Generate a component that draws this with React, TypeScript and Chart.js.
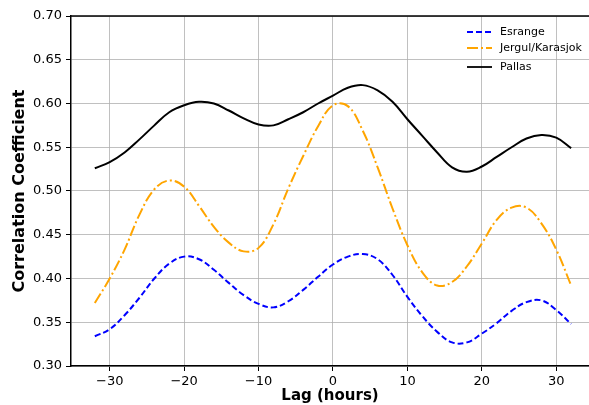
import React, { useEffect, useRef } from "react";
import { Chart, registerables } from "chart.js";

Chart.register(...registerables);

const lags = [-32, -30, -28, -26, -24, -22, -20, -18, -16, -14, -12, -10, -8, -6, -4, -2, 0, 2, 4, 6, 8, 10, 12, 14, 16, 18, 20, 22, 24, 26, 28, 30, 32];

const esrange = [0.334, 0.342, 0.358, 0.378, 0.400, 0.417, 0.425, 0.422, 0.410, 0.395, 0.381, 0.371, 0.367, 0.374, 0.387, 0.402, 0.416, 0.425, 0.428, 0.422, 0.404, 0.379, 0.357, 0.339, 0.327, 0.327, 0.337, 0.349, 0.363, 0.373, 0.375, 0.364, 0.348];

const jergul = [0.372, 0.400, 0.433, 0.473, 0.502, 0.512, 0.505, 0.483, 0.459, 0.441, 0.431, 0.435, 0.462, 0.503, 0.540, 0.574, 0.598, 0.597, 0.569, 0.527, 0.480, 0.438, 0.407, 0.392, 0.396, 0.414, 0.440, 0.467, 0.481, 0.481, 0.463, 0.433, 0.392];

const pallas = [0.526, 0.533, 0.544, 0.559, 0.575, 0.590, 0.598, 0.602, 0.600, 0.592, 0.583, 0.576, 0.575, 0.582, 0.590, 0.600, 0.609, 0.618, 0.621, 0.615, 0.602, 0.582, 0.563, 0.544, 0.527, 0.522, 0.528, 0.539, 0.550, 0.560, 0.564, 0.561, 0.549];

const seriesLabels = ["Esrange", "Jergul/Karasjok", "Pallas"];
const xTicks = [-30, -20, -10, 0, 10, 20, 30];
const yTicks = [0.3, 0.35, 0.4, 0.45, 0.5, 0.55, 0.6, 0.65, 0.7];

const FONT = "'DejaVu Sans', sans-serif";

const frameAndLegend = {
  id: "frameAndLegend",
  afterDraw(chart: any) {
    const { ctx, chartArea } = chart;
    ctx.save();
    ctx.strokeStyle = "#000";
    ctx.lineWidth = 1.5;
    ctx.beginPath();
    ctx.moveTo(chartArea.left - 0.75, chartArea.top);
    ctx.lineTo(chartArea.right, chartArea.top);
    ctx.stroke();
    const rows = [32, 48, 67];
    chart.data.datasets.forEach((ds: any, i: number) => {
      const y = rows[i];
      ctx.strokeStyle = ds.borderColor;
      ctx.lineWidth = 1.8;
      ctx.setLineDash(ds.borderDash || []);
      ctx.beginPath();
      ctx.moveTo(467, y);
      ctx.lineTo(492, y);
      ctx.stroke();
      ctx.setLineDash([]);
      ctx.fillStyle = "#000";
      ctx.font = "11px " + FONT;
      ctx.textBaseline = "middle";
      ctx.textAlign = "left";
      ctx.fillText(ds.label, 500, y);
    });
    ctx.restore();
  },
};

export default function App() {
  const ref = useRef<HTMLCanvasElement | null>(null);
  useEffect(() => {
    if (!ref.current) return;
    const mk = (vals: number[]) => lags.map((x, i) => ({ x, y: vals[i] }));
    const common = { borderWidth: 2, pointRadius: 0, tension: 0.4, fill: false };
    const chart = new Chart(ref.current, {
      type: "line",
      data: {
        datasets: [
          { label: seriesLabels[0], data: mk(esrange), borderColor: "#0000ff", borderDash: [6, 3], ...common },
          { label: seriesLabels[1], data: mk(jergul), borderColor: "#ffa500", borderDash: [11, 3, 2, 3], ...common },
          { label: seriesLabels[2], data: mk(pallas), borderColor: "#000000", ...common },
        ],
      },
      options: {
        responsive: false,
        animation: false,
        devicePixelRatio: 1,
        layout: { padding: { top: 16, right: 0, left: 0, bottom: 0 } },
        plugins: { legend: { display: false }, tooltip: { enabled: false } },
        scales: {
          x: {
            type: "linear",
            min: -35.2,
            max: 34.4,
            afterFit: (s: any) => { s.height = 39; },
            afterBuildTicks: (s: any) => { s.ticks = xTicks.map((v) => ({ value: v })); },
            ticks: {
              includeBounds: false,
              color: "#000",
              font: { family: FONT, size: 13 },
              padding: 3,
              maxRotation: 0,
              callback: (v: any) => (v < 0 ? "\u2212" + Math.abs(v) : String(v)),
            },
            grid: { color: "#b0b0b0", lineWidth: 0.8, tickColor: "#000", tickLength: 5, tickWidth: 1 },
            border: { color: "#000", width: 1.5 },
            title: { display: true, text: "Lag (hours)", color: "#000", font: { family: FONT, size: 15, weight: "bold" }, padding: { top: 0, bottom: 0 } },
          },
          y: {
            min: 0.3,
            max: 0.7,
            afterFit: (s: any) => { s.width = 71; },
            afterBuildTicks: (s: any) => { s.ticks = yTicks.map((v) => ({ value: v })); },
            ticks: {
              color: "#000",
              font: { family: FONT, size: 13 },
              padding: 4,
              callback: (v: any) => Number(v).toFixed(2),
            },
            grid: { color: "#b0b0b0", lineWidth: 0.8, tickColor: "#000", tickLength: 5, tickWidth: 1 },
            border: { color: "#000", width: 1.5 },
            title: { display: true, text: "Correlation Coefficient", color: "#000", font: { family: FONT, size: 16, weight: "bold" }, padding: { top: 10, bottom: 0 } },
          },
        },
      },
      plugins: [frameAndLegend],
    } as any);
    return () => chart.destroy();
  }, []);
  return (
    <div style={{ position: "absolute", left: 0, top: 0, width: 589, height: 405 }}>
      <canvas ref={ref} width={589} height={405} style={{ width: 589, height: 405, display: "block" }} />
    </div>
  );
}
